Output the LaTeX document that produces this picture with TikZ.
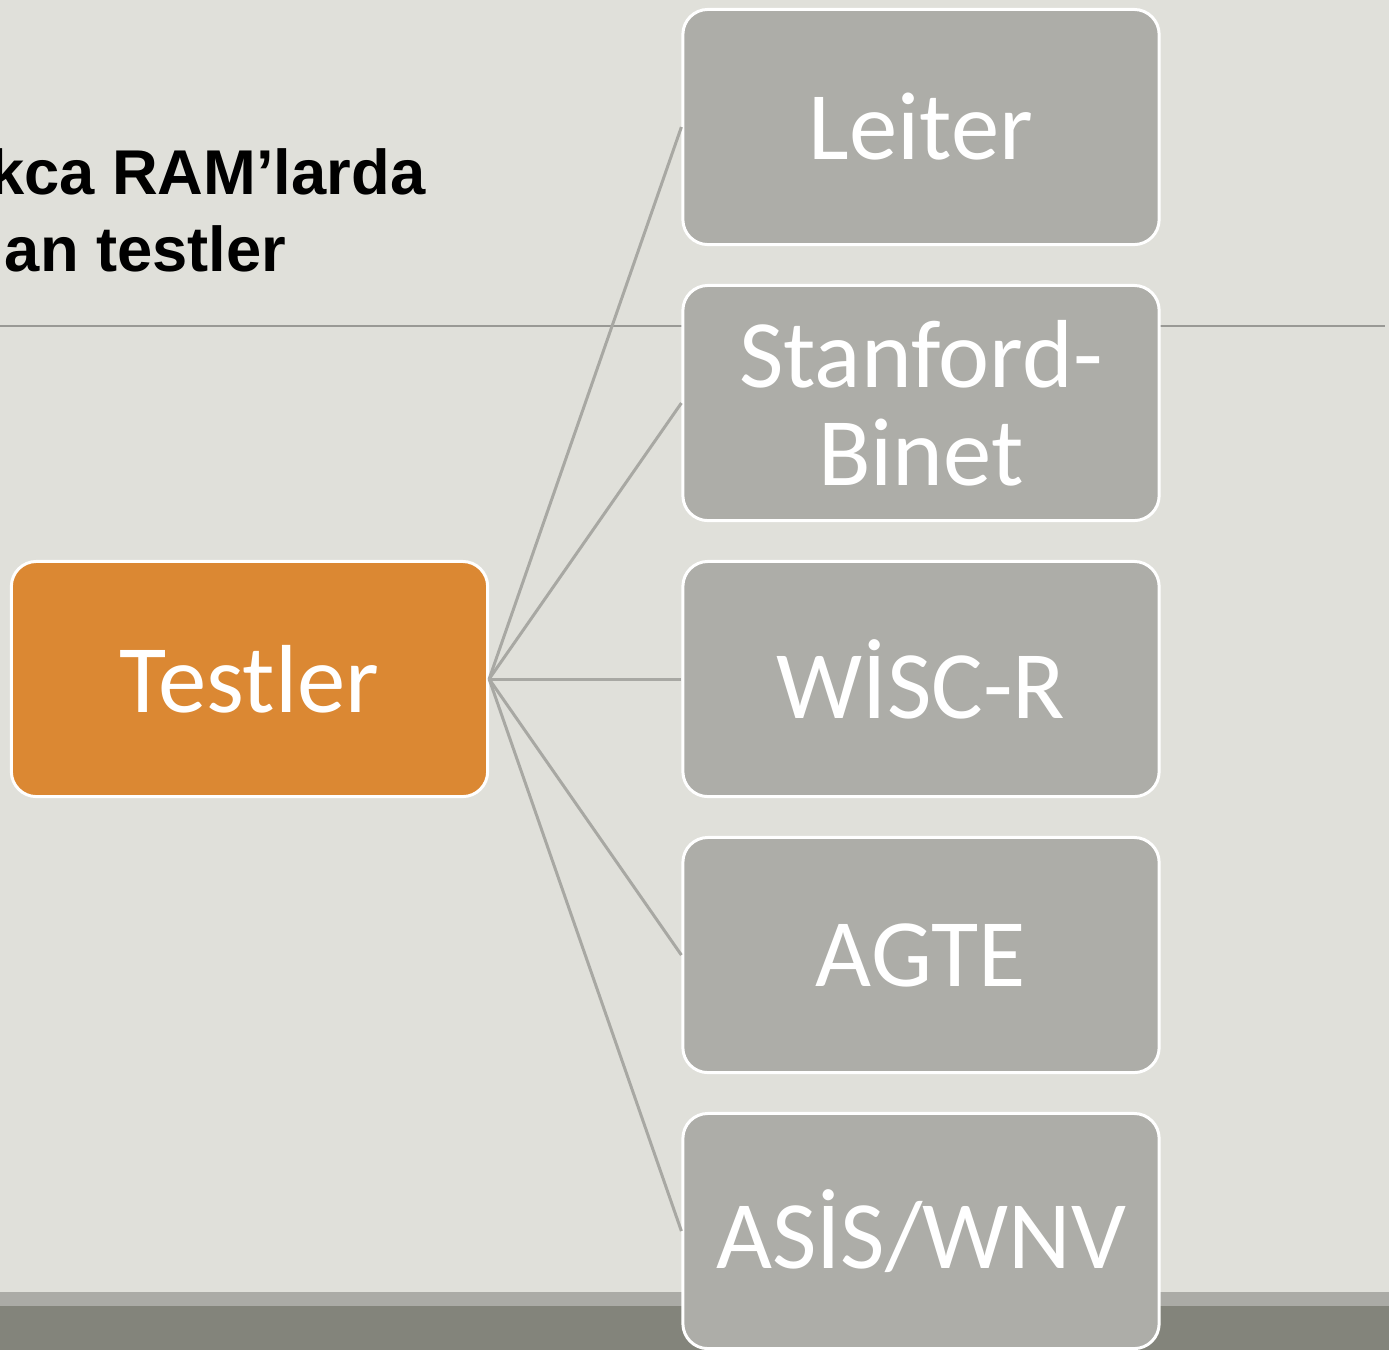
\documentclass[tikz,border=0pt]{standalone}
\usepackage{fontspec}
\setmainfont{Carlito}
\newfontfamily\titlefont{Liberation Sans}
\definecolor{slidebg}{HTML}{E0E0DA}
\definecolor{boxgray}{HTML}{ADADA8}
\definecolor{boxorange}{HTML}{DB8833}
\definecolor{linkgray}{HTML}{A8A8A3}
\definecolor{rulegray}{HTML}{999995}
\definecolor{barlight}{HTML}{ABABA6}
\definecolor{bardark}{HTML}{83847B}
\tikzset{
  testbox/.style={draw=white, line width=0.85pt, rounded corners=0.25cm,
    minimum width=4.76cm, minimum height=2.35cm, align=center, text=white,
    font=\fontsize{27.5}{30}\selectfont},
  titleline/.style={anchor=base east, inner sep=0pt,
    font=\titlefont\bfseries\fontsize{18}{22}\selectfont},
  link/.style={linkgray, line width=0.85pt}
}
\begin{document}
\begin{tikzpicture}[x=0.01cm,y=-0.01cm]
\clip (0,0) rectangle (1389,1350);
\fill[slidebg] (0,0) rectangle (1389,1350);
% bottom bars and title rule
\fill[barlight] (0,1292) rectangle (1389,1306);
\fill[bardark] (0,1306) rectangle (1389,1350);
\draw[rulegray, line width=0.6pt] (0,326) -- (1385,326);
\node[titleline] (title1) at (426,194) {kca RAM’larda};
\node[titleline] (title2) at (287,271) {an testler};
% nodes
\node[testbox, fill=boxorange] (testler) at (249.5,679) {Testler};
\foreach \name/\txt [count=\i from 0] in {leiter/Leiter, stanford/{Stanford-\\[-2pt]Binet}, wisc/WİSC-R, agte/AGTE, asis/{ASİS/WNV}}
\node[testbox, fill=boxgray] (\name) at (921,127+276*\i) {\txt};
\foreach \name in {leiter,stanford,wisc,agte,asis}
\draw[link] (testler.east) -- (\name.west);
\end{tikzpicture}
\end{document}
